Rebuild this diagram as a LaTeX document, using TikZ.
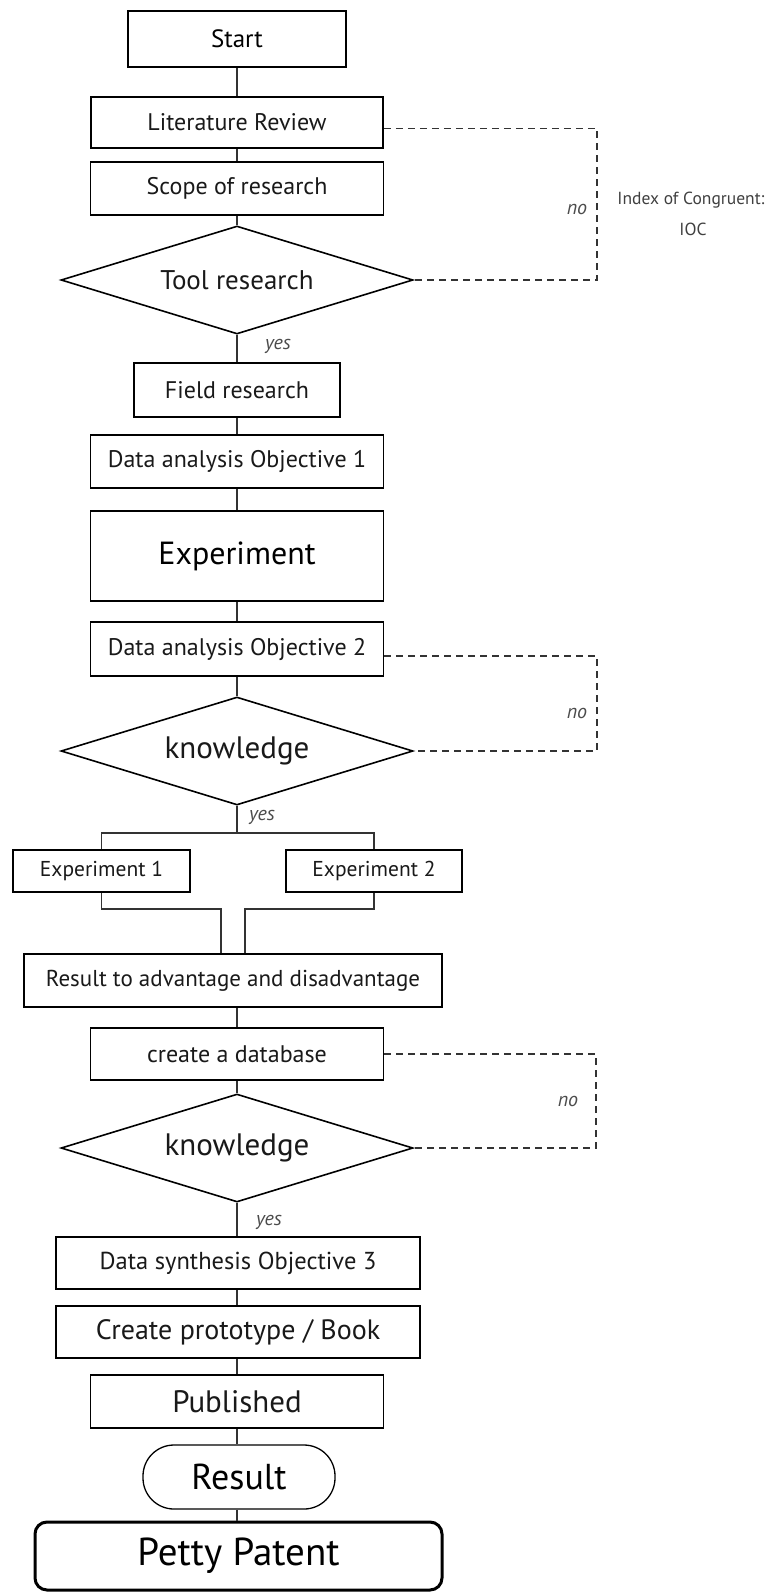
\documentclass[tikz,border=0pt]{standalone}
\usepackage{fontspec}
\setmainfont{PT Sans}
\usepackage{tikz}
\usepackage{xcolor}
\usetikzlibrary{shapes,arrows}

\begin{document}
\begin{tikzpicture}[x=1pt,y=-1pt]
\tikzstyle{box} = [rectangle, draw, line width=1.6pt, inner sep=0pt, minimum width=293pt, minimum height=53pt, text=black!90, font=\fontsize{24}{28}\selectfont]
\tikzstyle{decision} = [diamond, draw, line width=1.6pt, inner sep=0pt, aspect=3.2, minimum width=352pt, minimum height=108pt, text=black!90, font=\fontsize{27}{30}\selectfont]
\tikzstyle{link} = [line width=1.3pt, draw=black!80]
\tikzstyle{dashlink} = [line width=1.3pt, draw=black!80, dash pattern=on 7pt off 5pt]
\tikzstyle{answer} = [font=\itshape\fontsize{20}{22}\selectfont, text=black!70]
\useasboundingbox (0,0) rectangle (776,1592);
% main column
\node[box, minimum width=218pt, minimum height=56pt, font=\fontsize{25}{28}\selectfont, text=black] (start) at (237,39) {Start};
\node[box, minimum width=292pt, minimum height=51pt] (litrev) at (237,122.5) {Literature Review};
\node[box] (scope) at (237,188.5) {Scope of research};
\node[decision] (tool) at (237,280) {Tool research};
\node[box, minimum width=206pt, minimum height=54pt] (field) at (237,390) {Field research};
\node[box] (anaone) at (237,461.5) {Data analysis Objective 1};
\node[box, minimum height=90pt, font=\fontsize{32}{36}\selectfont, text=black] (exper) at (237,556) {Experiment};
\node[box, minimum height=54pt] (anatwo) at (237,649) {Data analysis Objective 2};
\node[decision, font=\fontsize{31}{34}\selectfont] (knowone) at (237,751) {knowledge};
% two experiments
\node[box, minimum width=177pt, minimum height=42pt, font=\fontsize{21.5}{24}\selectfont] (expone) at (101.5,871) {Experiment 1};
\node[box, minimum width=176pt, minimum height=42pt, font=\fontsize{21.5}{24}\selectfont] (exptwo) at (374,871) {Experiment 2};
\node[box, minimum width=418pt, font=\fontsize{23}{26}\selectfont] (adv) at (233,980.5) {Result to advantage and disadvantage};
\node[box, minimum height=52pt] (database) at (237,1054) {create a database};
\node[decision, font=\fontsize{31}{34}\selectfont] (knowtwo) at (237,1148) {knowledge};
\node[box, minimum width=364pt, minimum height=52pt, font=\fontsize{24.5}{28}\selectfont] (synth) at (238,1263) {Data synthesis Objective 3};
\node[box, minimum width=364pt, minimum height=52pt, font=\fontsize{28}{32}\selectfont] (proto) at (238,1332) {Create prototype / Book};
\node[box, font=\fontsize{31}{34}\selectfont] (pub) at (237,1401.5) {Published};
\node[box, minimum width=192pt, minimum height=64pt, rounded corners=31pt, line width=1.3pt, font=\fontsize{36}{40}\selectfont, text=black] (result) at (239,1477) {Result};
\node[box, minimum width=407pt, minimum height=68pt, rounded corners=12pt, line width=3pt, font=\fontsize{39}{42}\selectfont, text=black] (patent) at (238.5,1556) {Petty Patent};
% connectors
\draw[link] (start) -- (litrev);
\draw[link] (litrev) -- (scope);
\draw[link] (scope) -- (tool);
\draw[link] (tool) -- (field);
\draw[link] (field) -- (anaone);
\draw[link] (anaone) -- (exper);
\draw[link] (exper) -- (anatwo);
\draw[link] (anatwo) -- (knowone);
\coordinate (split) at (237,833);
\draw[link] (knowone) -- (split);
\draw[link] (expone.north) |- (split) -| (exptwo.north);
\coordinate (joinone) at (221,909);
\coordinate (jointwo) at (245,909);
\draw[link] (expone.south) |- (joinone) -- (joinone |- adv.north);
\draw[link] (exptwo.south) |- (jointwo) -- (jointwo |- adv.north);
\draw[link] (adv.south -| database) -- (database);
\draw[link] (database) -- (knowtwo);
\draw[link] (knowtwo.south) -- (knowtwo.south |- synth.north);
\draw[link] (synth.south -| pub) -- (proto.north -| pub);
\draw[link] (proto.south -| pub) -- (pub);
\draw[link] (pub.south) -- (pub.south |- result.north);
\draw[link] (result.south -| pub) -- (patent.north -| pub);
% loops back
\coordinate (backone) at (597,0);
\coordinate (backtwo) at (597,0);
\coordinate (backthree) at (596,0);
\coordinate (outone) at ([yshift=-6pt]litrev.east);
\coordinate (outtwo) at ([yshift=-7pt]anatwo.east);
\draw[dashlink] (outone) -- (outone -| backone) -- (tool.east -| backone) -- (tool.east);
\draw[dashlink] (outtwo) -- (outtwo -| backtwo) -- (knowone.east -| backtwo) -- (knowone.east);
\draw[dashlink] (database.east) -- (database.east -| backthree) -- (knowtwo.east -| backthree) -- (knowtwo.east);
% labels
\node[answer] (noone) at (577,209) {no};
\node[answer] (notwo) at (577,713) {no};
\node[answer] (nothree) at (568,1101) {no};
\node[answer] (yesone) at (278,346) {yes};
\node[answer] (yestwo) at (262,817) {yes};
\node[answer] (yesthree) at (269,1222) {yes};
\node[font=\fontsize{17.5}{20}\selectfont, text=black!75] (ioc) at (691,200) {Index of Congruent:};
\node[font=\fontsize{17.5}{20}\selectfont, text=black!75] (iocshort) at (693,229) {IOC};
\end{tikzpicture}
\end{document}
